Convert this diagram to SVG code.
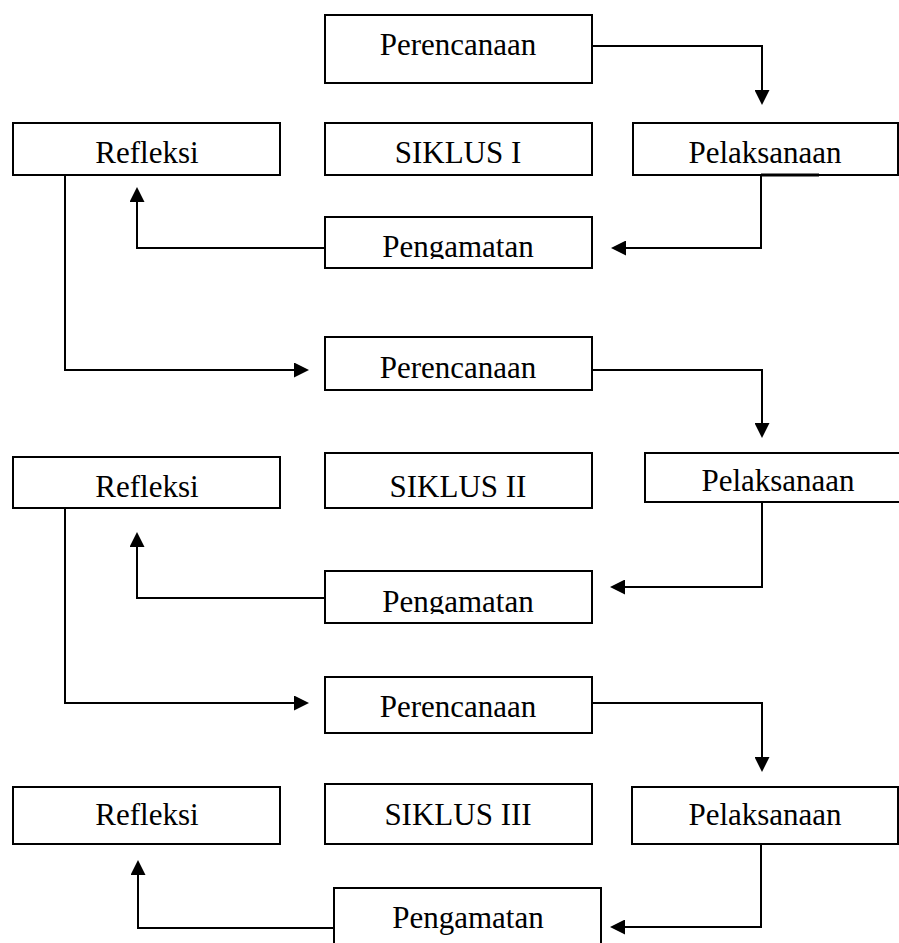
<svg xmlns="http://www.w3.org/2000/svg" width="899" height="943" viewBox="0 0 899 943">
<style>
.box{fill:#fff;stroke:#000;stroke-width:2}
.lbl{font-family:"Liberation Serif","Times New Roman",serif;font-size:31px;fill:#000;text-anchor:middle}
.con{fill:none;stroke:#000;stroke-width:2}
</style>
<defs>
<marker id="ah" viewBox="0 0 16 16" refX="0" refY="8" markerWidth="16" markerHeight="15" orient="auto" markerUnits="userSpaceOnUse">
<path d="M0,0 L16,8 L0,16 Z" fill="#000"/>
</marker>
<clipPath id="c1"><rect x="325" y="217" width="267" height="42"/></clipPath>
<clipPath id="c2"><rect x="325" y="571" width="267" height="43"/></clipPath>
</defs>
<rect width="899" height="943" fill="#fff"/>

<g id="perencanaan1"><rect class="box" x="325" y="15" width="267" height="68"/><text class="lbl" x="458" y="55">Perencanaan</text></g>
<g id="refleksi1"><rect class="box" x="13" y="123" width="267" height="52"/><text class="lbl" x="147" y="163">Refleksi</text></g>
<g id="siklus1"><rect class="box" x="325" y="123" width="267" height="52"/><text class="lbl" x="458" y="163">SIKLUS I</text></g>
<g id="pelaksanaan1"><rect class="box" x="633" y="123" width="265" height="52"/><text class="lbl" x="765" y="163">Pelaksanaan</text></g>
<g id="pengamatan1"><rect class="box" x="325" y="217" width="267" height="51"/><text class="lbl" x="458" y="257" clip-path="url(#c1)">Pengamatan</text></g>

<g id="perencanaan2"><rect class="box" x="325" y="337" width="267" height="53"/><text class="lbl" x="458" y="378">Perencanaan</text></g>
<g id="refleksi2"><rect class="box" x="13" y="457" width="267" height="51"/><text class="lbl" x="147" y="497">Refleksi</text></g>
<g id="siklus2"><rect class="box" x="325" y="453" width="267" height="55"/><text class="lbl" x="458" y="497">SIKLUS II</text></g>
<g id="pelaksanaan2"><rect class="box" x="645" y="453" width="270" height="49"/><text class="lbl" x="778" y="491">Pelaksanaan</text></g>
<g id="pengamatan2"><rect class="box" x="325" y="571" width="267" height="52"/><text class="lbl" x="458" y="612" clip-path="url(#c2)">Pengamatan</text></g>

<g id="perencanaan3"><rect class="box" x="325" y="677" width="267" height="56"/><text class="lbl" x="458" y="717">Perencanaan</text></g>
<g id="refleksi3"><rect class="box" x="13" y="787" width="267" height="57"/><text class="lbl" x="147" y="825">Refleksi</text></g>
<g id="siklus3"><rect class="box" x="325" y="784" width="267" height="60"/><text class="lbl" x="458" y="825">SIKLUS III</text></g>
<g id="pelaksanaan3"><rect class="box" x="632" y="787" width="266" height="57"/><text class="lbl" x="765" y="825">Pelaksanaan</text></g>
<g id="pengamatan3"><rect class="box" x="334" y="888" width="267" height="70"/><text class="lbl" x="468" y="928">Pengamatan</text></g>

<g id="connectors">
<path class="con" d="M592,46 H762 V90" marker-end="url(#ah)"/>
<path class="con" d="M761,175 V248 H626" marker-end="url(#ah)"/>
<line x1="761" y1="175" x2="819" y2="175" stroke="#000" stroke-width="3"/>
<path class="con" d="M325,248 H137 V202" marker-end="url(#ah)"/>
<path class="con" d="M65,175 V370 H294" marker-end="url(#ah)"/>
<path class="con" d="M592,370 H762 V423" marker-end="url(#ah)"/>
<path class="con" d="M762,502 V587 H625" marker-end="url(#ah)"/>
<path class="con" d="M325,598 H137 V547" marker-end="url(#ah)"/>
<path class="con" d="M65,508 V703 H294" marker-end="url(#ah)"/>
<path class="con" d="M592,703 H762 V757" marker-end="url(#ah)"/>
<path class="con" d="M761,844 V927 H625" marker-end="url(#ah)"/>
<path class="con" d="M334,928 H138 V875" marker-end="url(#ah)"/>
</g>
</svg>
